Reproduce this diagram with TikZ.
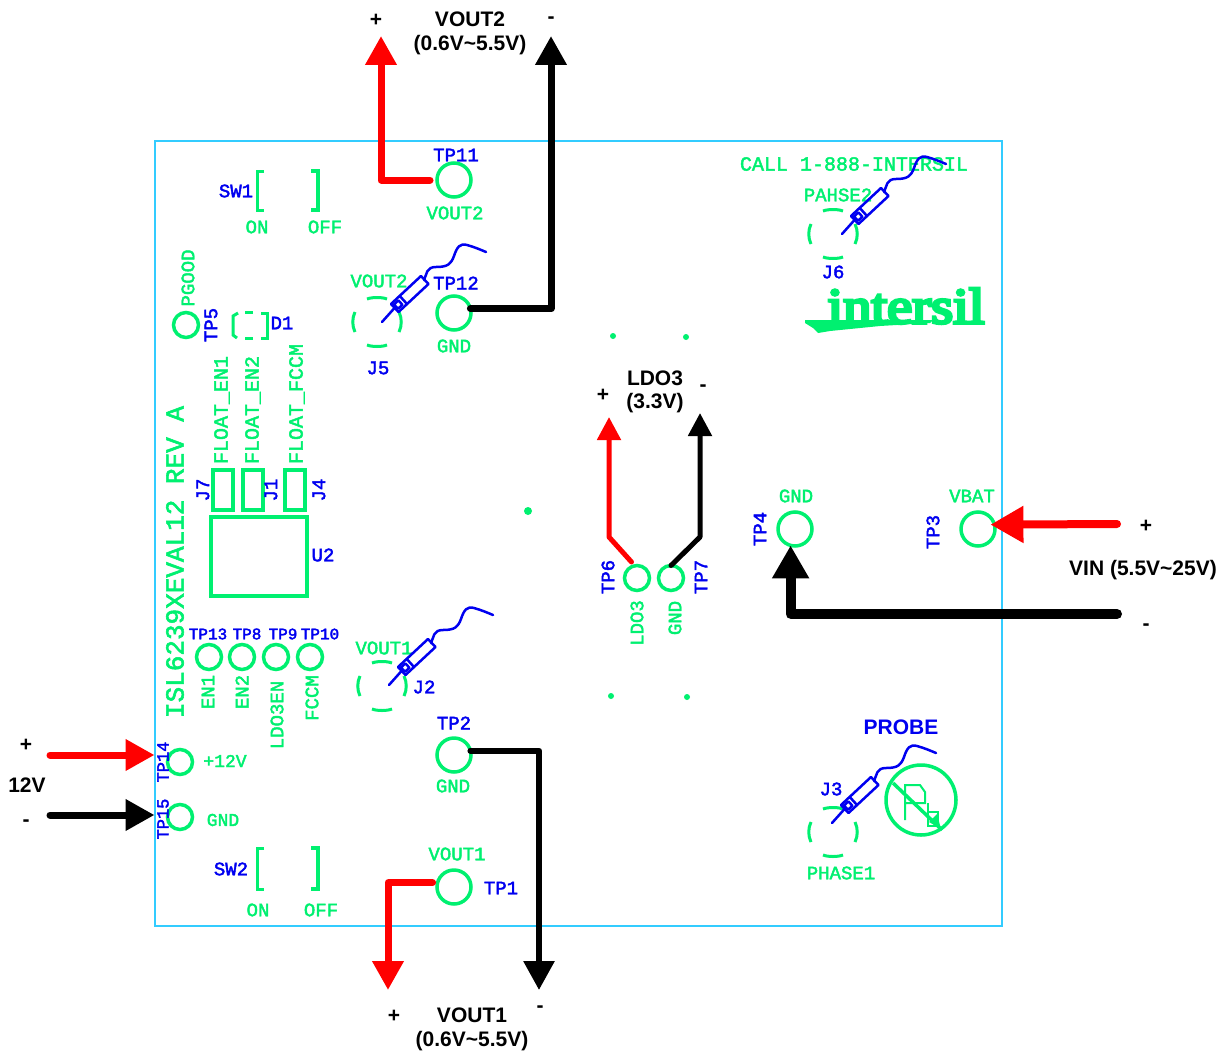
\documentclass[tikz,border=0pt]{standalone}
\usepackage{fontspec}
\setmainfont{Liberation Sans}
\newfontfamily\pcbfont[FakeBold=2.2]{Liberation Mono}
\newfontfamily\logofont[FakeBold=6]{Liberation Serif}
\usetikzlibrary{arrows.meta}
\definecolor{pcbgreen}{HTML}{00F070}
\definecolor{pcbblue}{HTML}{0000F0}
\definecolor{boardcyan}{HTML}{33CCFF}
\newcommand\pcbf[1]{\pcbfont\fontsize{#1}{#1}\selectfont}
\newcommand\capf[1]{\bfseries\fontsize{#1}{#1}\selectfont}
\tikzset{
  x=1pt,y=-1pt,
  every node/.style={inner sep=0pt,outer sep=0pt},
  gl/.style={text=pcbgreen,font=\pcbf{19}},
  gs/.style={text=pcbgreen,font=\pcbf{#1}},
  bl/.style={text=pcbblue,font=\pcbf{19}},
  bs/.style={text=pcbblue,font=\pcbf{#1}},
  captxt/.style={text=black,font=\capf{21}},
  bigpad/.style={circle,draw=pcbgreen,line width=3.5pt,minimum size=34pt},
  smallpad/.style={circle,draw=pcbgreen,line width=3.5pt,minimum size=25pt},
  pcbline/.style={draw=pcbgreen,line width=3pt},
  thickpcb/.style={draw=pcbgreen,line width=3.5pt},
  wirered/.style={draw=red,line width=#1,line join=round,line cap=round},
  wireblack/.style={draw=black,line width=#1,line join=round,line cap=round},
  headA/.style={-{Triangle[length=29pt,width=30pt]}},
  headB/.style={-{Triangle[length=23pt,width=23pt]}},
  headC/.style={-{Triangle[length=33pt,width=35pt]}},
  probeline/.style={draw=pcbblue,line width=2.5pt,line join=round,line cap=round},
  jconn/.pic={
    \draw[pcbline] (-10,-23) .. controls (-5,-25) and (5,-25) .. (10,-23);
    \draw[pcbline] (-10,23) .. controls (-5,25) and (5,25) .. (10,23);
    \draw[pcbline] (-22,-10) .. controls (-25,-4) and (-25,4) .. (-22,10);
    \draw[pcbline] (22,-10) .. controls (25,-4) and (25,4) .. (22,10);
  },
  probe/.pic={
    \draw[probeline] (0,0) -- (12.5,-14);
    \draw[probeline] (16.5,-10) -- (9,-18) -- (39,-46) -- (46.5,-38) -- cycle;
    \draw[probeline] (25,-18) -- (17.6,-26.2);
    \draw[probeline] (20.4,-17.2) -- (16.4,-21.6) -- (12,-17.6) -- (16,-13.2) -- cycle;
    \draw[probeline] (42,-42) .. controls (45,-48) and (44,-55) .. (54,-55)
       .. controls (66,-55) and (69,-58) .. (72,-66)
       .. controls (75,-75) and (78,-79) .. (85,-77)
       .. controls (92,-75) and (97,-73) .. (104,-70);
  },
}
\begin{document}
\begin{tikzpicture}
\useasboundingbox (0,0) rectangle (1228,1057);
\fill[white] (0,0) rectangle (1228,1057);
% board
\draw[boardcyan,line width=2.2pt] (155,141) rectangle (1002,926);

% pads
\node[bigpad] (tp11) at (454,180) {};
\node[bigpad] (tp12) at (454,313) {};
\node[bigpad] (tp2) at (454,755) {};
\node[bigpad] (tp1) at (454,887) {};
\node[bigpad] (tp4) at (795,529) {};
\node[bigpad] (tp3) at (978,529) {};
\node[smallpad] (tp5) at (186,325) {};
\node[smallpad] (tp13) at (209,657) {};
\node[smallpad] (tp8) at (242,657) {};
\node[smallpad] (tp9) at (276,657) {};
\node[smallpad] (tp10) at (310,657) {};
\node[smallpad] (tp14) at (180,762) {};
\node[smallpad] (tp15) at (180,817) {};
\node[smallpad] (tp6) at (637,578) {};
\node[smallpad] (tp7) at (671,578) {};

% footprints
\draw[thickpcb] (213,470) rectangle (233,510);
\draw[thickpcb] (243,470) rectangle (263,510);
\draw[thickpcb] (285,470) rectangle (305,510);
\draw[thickpcb] (211,517) rectangle (307,596);
% SW1, SW2
\draw[pcbline] (264,171) -- (257,171) -- (257,210) -- (264,210);
\draw[thickpcb] (311,171) -- (318,171) -- (318,210) -- (311,210);
\draw[pcbline] (264,848) -- (257,848) -- (257,889) -- (264,889);
\draw[thickpcb] (311,848) -- (318,848) -- (318,889) -- (311,889);
% D1
\draw[pcbline] (238,313) -- (233,316) -- (233,335) -- (237,338);
\draw[pcbline] (261,313) -- (267,313) -- (267,338) -- (261,338);
\draw[pcbline] (245,312) -- (253,312);
\draw[pcbline] (245,338) -- (253,338);
% connector outlines
\pic at (377,322) {jconn};
\pic at (382,686) {jconn};
\pic at (833,234) {jconn};
\pic at (833,832) {jconn};
% dots
\fill[pcbgreen] (613,336) circle (3);
\fill[pcbgreen] (686,337) circle (3);
\fill[pcbgreen] (528,511) circle (4);
\fill[pcbgreen] (611,696) circle (3);
\fill[pcbgreen] (687,697) circle (3);
% no-Pb mark
\draw[thickpcb] (921,800) circle (35);
\draw[thickpcb] (893,783) -- (942,830);
\draw[draw=pcbgreen,line width=2pt] (905,820) -- (905,785) -- (920,785) -- (925,792) -- (925,803) -- (905,803);
\draw[draw=pcbgreen,line width=2pt] (928,803) -- (928,826) -- (938,826) -- (938,812) -- (928,812);
\fill[pcbgreen] (929,822) -- (937,814) -- (941,829) -- cycle;
% logo
\node[text=pcbgreen] (logo) at (906,306) {\resizebox{157pt}{35pt}{\logofont intersil}};
\fill[pcbgreen] (805,320) -- (933,320) -- (930,323) -- (880,326) -- (830,331) -- (818,333) -- (813,328) -- (805,323) -- cycle;

% green texts
\node[gs=20] (call) at (854,164) {CALL 1-888-INTERSIL};
\node[gl] (lp2) at (838,195) {PAHSE2};
\node[gl] (lp1) at (841,873) {PHASE1};
\node[gl] (lv2a) at (455,213) {VOUT2};
\node[gl] (lv2b) at (379,281) {VOUT2};
\node[gl] (lg12) at (454,346) {GND};
\node[gl] (lv1a) at (384,648) {VOUT1};
\node[gl] (lv1b) at (457,854) {VOUT1};
\node[gl] (lg2) at (453,786) {GND};
\node[gl] (lon1) at (257,227) {ON};
\node[gl] (loff1) at (325,227) {OFF};
\node[gl] (lon2) at (258,910) {ON};
\node[gl] (loff2) at (321,910) {OFF};
\node[gs=18] (l12v) at (225,761) {+12V};
\node[gs=18] (lg15) at (223,820) {GND};
\node[gl] (lg4) at (796,496) {GND};
\node[gl] (lvb) at (972,496) {VBAT};
\node[gl,rotate=90] (lpg) at (188,278) {PGOOD};
\node[gs=20,rotate=90] (lfe1) at (222,410) {FLOAT\_EN1};
\node[gs=20,rotate=90] (lfe2) at (253,410) {FLOAT\_EN2};
\node[gs=20,rotate=90] (lffc) at (297,404) {FLOAT\_FCCM};
\node[gs=26,rotate=90] (lrev) at (175,562) {ISL6239XEVAL12 REV A};
\node[gl,rotate=90] (len1) at (208,692) {EN1};
\node[gl,rotate=90] (len2) at (242,692) {EN2};
\node[gl,rotate=90] (lld3) at (277,715) {LDO3EN};
\node[gl,rotate=90] (lfcm) at (312,698) {FCCM};
\node[gl,rotate=90] (lldo) at (637,623) {LDO3};
\node[gl,rotate=90] (lg7) at (675,618) {GND};

% blue texts
\node[bl] (ltp11) at (456,155) {TP11};
\node[bl] (ltp12) at (456,283) {TP12};
\node[bl] (ltp2) at (454,723) {TP2};
\node[bl] (ltp1) at (501,888) {TP1};
\node[bl] (lsw1) at (236,191) {SW1};
\node[bl] (lsw2) at (231,869) {SW2};
\node[bl] (ld1) at (282,323) {D1};
\node[bl] (lj5) at (378,368) {J5};
\node[bl] (lj2) at (424,687) {J2};
\node[bl] (lj6) at (833,272) {J6};
\node[bl] (lj3) at (831,789) {J3};
\node[bl] (lu2) at (323,555) {U2};
\node[bs=16] (ltp13) at (208,634) {TP13};
\node[bs=16] (ltp8) at (247,634) {TP8};
\node[bs=16] (ltp9) at (283,634) {TP9};
\node[bs=16] (ltp10) at (320,634) {TP10};
\node[bl,rotate=90] (ltp5) at (211,325) {TP5};
\node[bs=17,rotate=90] (ltp14) at (163,762) {TP14};
\node[bs=17,rotate=90] (ltp15) at (163,819) {TP15};
\node[bl,rotate=90] (ltp6) at (608,577) {TP6};
\node[bl,rotate=90] (ltp7) at (701,577) {TP7};
\node[bl,rotate=90] (ltp4) at (760,529) {TP4};
\node[bl,rotate=90] (ltp3) at (933,532) {TP3};
\node[bl,rotate=90] (lj7) at (203,490) {J7};
\node[bl,rotate=90] (lj1) at (271,490) {J1};
\node[bl,rotate=90] (lj4) at (319,490) {J4};

% probes
\pic at (382,322) {probe};
\pic at (389,685) {probe};
\pic at (842,234) {probe};
\pic at (832,823) {probe};
\node[text=pcbblue,font=\capf{21}] (lprobe) at (901,727) {PROBE};

% connectors
\coordinate (v2p) at (381,36);
\coordinate (v2n) at (551,36);
\coordinate (v1n) at (539,990);
\coordinate (v1p) at (388,990);
\coordinate (l3p) at (609,417);
\coordinate (l3pc) at (609,537);
\coordinate (l3n) at (700,413);
\coordinate (l3nc) at (700,537);
\coordinate (vinp) at (1117,524);
\coordinate (vinn) at (1117,614);
\coordinate (in12) at (50,755);
\coordinate (ingnd) at (50,815);

\draw[wirered=7pt,headA,shorten <=7pt] (tp11.west) -| (v2p);
\draw[wireblack=7pt,headA] (tp12.15) -| (v2n);
\draw[wireblack=6pt,headA] (tp2.15) -| (v1n);
\draw[wirered=7pt,headA,shorten <=5pt] (tp1.165) -| (v1p);
\draw[wirered=5pt,headB,shorten <=5pt] (tp6.100) -- (l3pc) -- (l3p);
\draw[wireblack=5pt,headB] (tp7.90) -- (l3nc) -- (l3n);
\draw[wirered=8pt,headC,shorten >=-4pt] (vinp) -- (tp3.15);
\draw[wireblack=10pt,headC] (vinn) -| (tp4.255);
\draw[wirered=7pt,headA,shorten >=13pt] (in12) -- (in12 -| tp14.west);
\draw[wireblack=7pt,headA,shorten >=13pt] (ingnd) -- (ingnd -| tp15.west);

% black texts
\node[captxt] (cp2) at (376,20) {+};
\node[captxt] (cv2) at (470,19) {VOUT2};
\node[captxt] (cv2r) at (470,45) {(0.6V\textasciitilde5.5V)};
\node[captxt] (cm2) at (551,20) {-};
\node[captxt] (cldo) at (655,378) {LDO3};
\node[captxt] (cldor) at (655,403) {(3.3V)};
\node[captxt] (cp3) at (603,395) {+};
\node[captxt] (cm3) at (703,388) {-};
\node[captxt] (cpv) at (1146,526) {+};
\node[captxt] (cvin) at (1143,570) {VIN (5.5V\textasciitilde25V)};
\node[captxt] (cmv) at (1146,627) {-};
\node[captxt] (c12) at (27,785) {12V};
\node[captxt] (cp12) at (26,745) {+};
\node[captxt] (cm12) at (26,823) {-};
\node[captxt] (cv1) at (472,1015) {VOUT1};
\node[captxt] (cv1r) at (472,1041) {(0.6V\textasciitilde5.5V)};
\node[captxt] (cp1) at (394,1016) {+};
\node[captxt] (cm1) at (540,1009) {-};
\end{tikzpicture}
\end{document}
